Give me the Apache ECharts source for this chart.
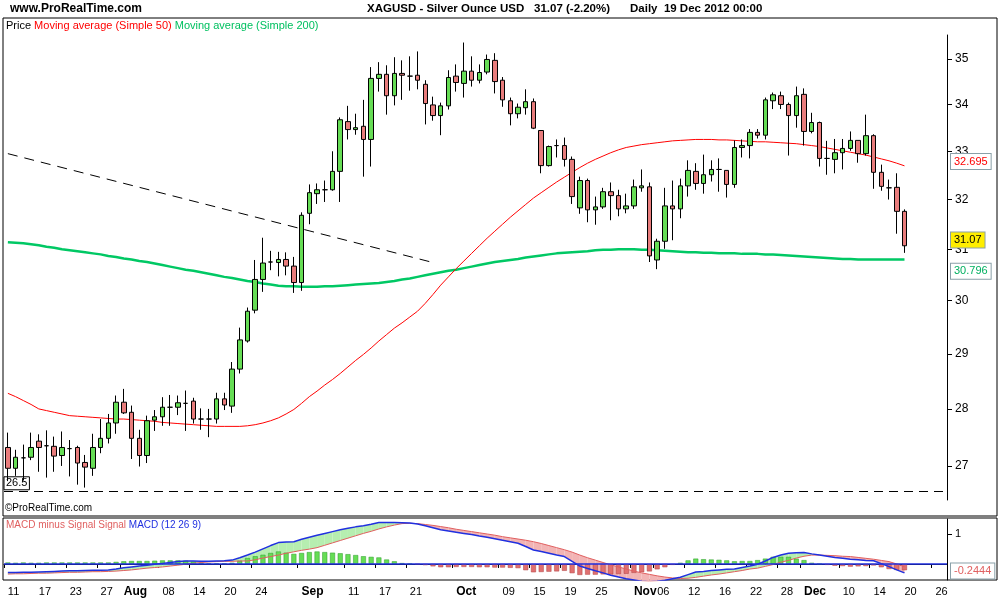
<!DOCTYPE html>
<html><head><meta charset="utf-8">
<script src="https://cdn.jsdelivr.net/npm/echarts@6/dist/echarts.min.js"></script>
<style>html,body{margin:0;padding:0;background:#fff}#c{width:1000px;height:600px}</style>
</head><body><div id="c"></div>
<script>
// ---------- DATA ----------
const openP = [27.32,26.96,27.14,27.15,27.43,27.35,27.34,27.18,27.30,27.32,27.06,26.96,27.32,27.48,27.75,28.12,27.94,27.48,27.18,27.80,27.86,28.03,28.03,28.10,28.14,27.82,27.82,27.82,28.18,28.05,28.72,29.24,29.82,30.41,30.75,30.74,30.80,30.67,30.35,31.72,32.12,32.20,32.20,32.58,33.63,33.46,33.53,33.25,34.57,34.66,34.19,34.68,34.62,34.64,34.44,33.99,33.76,33.97,34.62,34.46,34.73,34.53,34.71,34.97,34.53,34.08,33.80,33.93,34.06,33.44,32.70,33.12,33.12,32.83,31.83,32.39,31.79,31.85,32.16,32.08,31.81,31.87,32.24,32.26,30.79,31.16,31.87,31.81,32.28,32.58,32.33,32.51,32.62,32.60,32.31,33.08,33.12,33.40,33.34,34.08,34.19,34.00,33.76,34.22,33.42,33.61,32.85,32.83,32.97,33.06,33.23,32.95,33.33,32.56,32.24,32.25,31.76];
const highP = [27.58,27.28,27.37,27.58,27.55,27.62,27.51,27.60,27.45,27.35,27.19,27.56,27.82,27.91,28.24,28.36,28.06,27.63,27.88,27.98,28.21,28.25,28.24,28.33,28.20,28.01,28.00,28.29,28.29,28.85,29.49,29.87,30.79,31.23,30.97,30.95,30.94,30.85,31.74,32.31,32.33,32.39,33.00,33.72,33.97,33.80,34.10,34.82,34.93,34.86,35.04,34.97,35.06,35.17,34.53,34.17,34.04,34.75,34.88,35.37,35.06,34.88,35.10,35.13,34.60,34.15,34.02,34.33,34.13,33.44,33.12,33.25,33.29,32.89,32.47,32.43,32.06,32.24,32.35,32.20,32.12,32.41,32.62,32.35,31.21,32.24,32.39,32.43,32.81,32.75,32.93,32.81,32.85,32.60,33.23,33.25,33.47,33.47,34.15,34.26,34.28,34.04,34.39,34.35,33.82,33.63,33.22,33.26,33.26,33.42,33.23,33.78,33.36,32.72,32.41,32.54,31.80];
const lowP = [26.74,26.83,26.75,27.10,26.90,26.80,26.90,27.00,26.82,26.68,26.63,26.83,27.22,27.39,27.56,27.91,27.12,26.99,27.05,27.61,27.70,27.70,27.89,27.61,27.74,27.63,27.50,27.74,27.98,27.93,28.64,29.21,29.76,30.17,30.59,30.47,30.49,30.15,30.19,31.50,31.91,31.95,32.18,31.95,33.25,33.35,32.47,32.68,34.28,33.78,33.98,34.10,34.30,34.33,33.57,33.65,33.34,33.89,34.28,34.15,34.39,34.46,34.66,34.24,33.95,33.55,33.70,33.78,33.47,32.54,32.68,32.87,32.68,31.91,31.71,31.54,31.49,31.81,31.58,31.66,31.72,31.81,32.16,30.75,30.61,31.01,31.18,31.62,32.06,32.20,32.12,32.37,32.16,32.04,32.24,32.87,32.85,33.27,33.25,33.90,33.90,32.91,33.50,33.12,33.38,32.68,32.51,32.54,32.62,33.01,32.76,32.91,32.22,32.18,32.00,31.31,30.93];
const closeP = [26.96,27.15,27.14,27.32,27.32,27.35,27.17,27.32,27.30,27.05,26.98,27.32,27.48,27.75,28.12,27.93,27.48,27.18,27.79,27.86,28.03,28.03,28.11,28.10,27.82,27.82,27.82,28.18,28.07,28.72,29.26,29.80,30.41,30.73,30.75,30.80,30.67,30.35,31.68,32.14,32.20,32.20,32.58,33.67,33.46,33.50,33.25,34.57,34.66,34.19,34.68,34.64,34.62,34.53,34.02,33.76,33.97,34.59,34.48,34.73,34.53,34.70,34.99,34.50,34.10,33.80,33.94,34.06,33.49,32.70,33.10,33.12,32.83,32.06,32.39,31.79,31.85,32.16,32.08,31.81,31.87,32.26,32.28,30.87,31.16,31.87,31.81,32.28,32.60,32.33,32.51,32.62,32.62,32.31,33.08,33.12,33.40,33.34,34.10,34.21,34.00,33.76,34.19,33.42,33.61,32.85,32.85,32.97,33.06,33.23,32.95,33.33,32.56,32.27,32.24,31.76,31.07];
const ma50 = [28.28,28.22,28.15,28.08,28.00,27.97,27.94,27.91,27.88,27.87,27.86,27.85,27.84,27.83,27.82,27.82,27.81,27.80,27.79,27.78,27.76,27.75,27.74,27.73,27.72,27.71,27.70,27.69,27.69,27.69,27.69,27.70,27.72,27.75,27.79,27.84,27.91,27.99,28.10,28.22,28.32,28.43,28.53,28.64,28.76,28.88,28.99,29.11,29.24,29.36,29.48,29.58,29.69,29.80,29.95,30.12,30.30,30.46,30.62,30.77,30.92,31.07,31.22,31.36,31.50,31.64,31.77,31.90,32.03,32.14,32.25,32.36,32.46,32.56,32.66,32.75,32.83,32.90,32.97,33.03,33.08,33.11,33.14,33.16,33.18,33.20,33.22,33.23,33.24,33.25,33.25,33.25,33.24,33.24,33.23,33.22,33.21,33.20,33.20,33.19,33.18,33.17,33.16,33.14,33.12,33.10,33.07,33.04,33.01,32.98,32.95,32.92,32.88,32.84,32.80,32.75,32.695];
const ma200 = [31.14,31.13,31.12,31.10,31.08,31.05,31.03,31.00,30.98,30.96,30.94,30.92,30.90,30.87,30.85,30.82,30.80,30.77,30.75,30.72,30.69,30.66,30.63,30.60,30.58,30.55,30.52,30.49,30.46,30.44,30.41,30.38,30.36,30.33,30.31,30.29,30.28,30.28,30.27,30.27,30.27,30.28,30.28,30.29,30.30,30.31,30.32,30.33,30.34,30.36,30.38,30.41,30.43,30.46,30.49,30.52,30.55,30.58,30.60,30.63,30.66,30.69,30.72,30.75,30.77,30.79,30.81,30.84,30.86,30.88,30.90,30.92,30.93,30.94,30.95,30.96,30.98,30.99,30.99,31.00,31.00,31.00,30.99,30.99,30.98,30.97,30.96,30.95,30.94,30.94,30.93,30.93,30.92,30.92,30.92,30.91,30.91,30.91,30.90,30.90,30.89,30.88,30.87,30.86,30.85,30.84,30.83,30.82,30.81,30.81,30.80,30.80,30.80,30.80,30.80,30.80,30.80];
const macd = [-0.29,-0.29,-0.28,-0.28,-0.27,-0.26,-0.25,-0.24,-0.23,-0.23,-0.22,-0.21,-0.21,-0.20,-0.17,-0.13,-0.10,-0.07,-0.04,-0.01,0.02,0.05,0.08,0.10,0.10,0.09,0.09,0.10,0.11,0.13,0.21,0.30,0.40,0.51,0.62,0.72,0.74,0.75,0.83,0.90,0.97,1.03,1.09,1.15,1.20,1.25,1.29,1.34,1.40,1.40,1.40,1.39,1.38,1.35,1.29,1.22,1.15,1.11,1.07,1.03,0.99,0.94,0.90,0.85,0.80,0.75,0.70,0.59,0.47,0.42,0.36,0.30,0.25,0.09,-0.07,-0.15,-0.23,-0.30,-0.38,-0.44,-0.50,-0.54,-0.58,-0.60,-0.58,-0.55,-0.50,-0.45,-0.36,-0.27,-0.25,-0.22,-0.20,-0.18,-0.17,-0.12,-0.07,-0.01,0.10,0.22,0.30,0.36,0.38,0.39,0.34,0.30,0.26,0.22,0.19,0.16,0.14,0.12,0.11,0.01,-0.09,-0.20,-0.30];
const signal = [-0.34,-0.33,-0.33,-0.32,-0.31,-0.31,-0.30,-0.29,-0.28,-0.28,-0.27,-0.26,-0.26,-0.25,-0.24,-0.22,-0.20,-0.17,-0.14,-0.12,-0.10,-0.07,-0.04,-0.01,0.02,0.05,0.07,0.08,0.09,0.09,0.10,0.10,0.14,0.20,0.25,0.30,0.36,0.41,0.46,0.50,0.55,0.63,0.71,0.79,0.87,0.95,1.03,1.10,1.18,1.25,1.31,1.36,1.37,1.36,1.33,1.30,1.26,1.22,1.17,1.13,1.09,1.05,1.01,0.97,0.92,0.88,0.84,0.80,0.75,0.69,0.62,0.55,0.48,0.40,0.30,0.21,0.13,0.05,-0.03,-0.10,-0.17,-0.24,-0.30,-0.35,-0.40,-0.44,-0.47,-0.49,-0.48,-0.45,-0.41,-0.37,-0.34,-0.30,-0.26,-0.22,-0.17,-0.14,-0.08,-0.02,0.06,0.12,0.20,0.26,0.30,0.30,0.29,0.28,0.26,0.25,0.22,0.19,0.16,0.12,0.08,0.00,-0.09];
const priceTicks = [27,28,29,30,31,32,33,34,35];
const labelDates = ['2012-07-11','2012-07-17','2012-07-23','2012-07-27','2012-08-01','2012-08-08','2012-08-14','2012-08-20','2012-08-24','2012-09-03','2012-09-11','2012-09-17','2012-09-21','2012-10-01','2012-10-09','2012-10-15','2012-10-19','2012-10-25','2012-11-01','2012-11-06','2012-11-12','2012-11-16','2012-11-22','2012-11-28','2012-12-03','2012-12-10','2012-12-14','2012-12-20','2012-12-26'];
const monthNames = {'2012-08-01':'Aug','2012-09-03':'Sep','2012-10-01':'Oct','2012-11-01':'Nov','2012-12-03':'Dec'};

// ---------- BUILD ----------
const dates = [];
{ let d = new Date(Date.UTC(2012,6,11)); const end = Date.UTC(2012,11,27);
  while (d.getTime() <= end) { const w = d.getUTCDay(); if (w>0 && w<6) dates.push(d.toISOString().slice(0,10)); d = new Date(d.getTime()+86400000); } }
const L = Math.log;
const candles = openP.map((o,i)=>[L(o),L(closeP[i]),L(lowP[i]),L(highP[i])]);
const hist = macd.map((m,i)=>+(m-signal[i]).toFixed(3));
const labelSet = new Set(labelDates);
const hidden = {color:'rgba(0,0,0,0)',width:0};
const boxLbl = (txt,color,bg)=>({show:true,formatter:txt,position:'end',distance:4,color:color,fontSize:11,borderColor:'#8aa0a8',borderWidth:1,backgroundColor:bg||'#fff',padding:[2,3]});

const chart = echarts.init(document.getElementById('c'));
const font = 'Liberation Sans, Arial, sans-serif';
chart.setOption({
  animation:false,
  textStyle:{fontFamily:font},
  grid:[{left:4,right:53,top:35,bottom:100},{left:4,right:53,top:519,bottom:20}],
  xAxis:[
    {type:'category',gridIndex:0,data:dates,boundaryGap:true,axisLine:{show:false},axisTick:{show:false},axisLabel:{show:false}},
    {type:'category',gridIndex:1,data:dates,boundaryGap:true,axisLine:{lineStyle:{color:'#000'}},
     axisTick:{show:true,interval:(i,v)=>labelSet.has(v),lineStyle:{color:'#000'},length:4},
     axisLabel:{interval:(i,v)=>labelSet.has(v),color:'#000',fontSize:11,margin:6,align:'left',
       formatter:v=>monthNames[v]?'{b|'+monthNames[v]+'}':v.slice(8),rich:{b:{fontWeight:'bold',fontSize:12}}}}
  ],
  yAxis:[
    {type:'value',gridIndex:0,position:'right',min:L(26.42),max:L(35.54),
     axisLine:{show:true,lineStyle:{color:'#000'}},splitLine:{show:false},
     axisTick:{show:true,customValues:priceTicks.map(L),lineStyle:{color:'#000'}},
     axisLabel:{customValues:priceTicks.map(L),formatter:v=>String(Math.round(Math.exp(v))),color:'#000',fontSize:12,margin:8}},
    {type:'value',gridIndex:1,position:'right',min:-0.54,max:1.515,
     axisLine:{show:true,lineStyle:{color:'#000'}},splitLine:{show:false},
     axisTick:{show:true,customValues:[1],lineStyle:{color:'#000'}},
     axisLabel:{customValues:[1],formatter:v=>String(v),color:'#000',fontSize:11,margin:8}}
  ],
  series:[
    {type:'line',xAxisIndex:0,yAxisIndex:0,data:ma200.map(L),symbol:'none',lineStyle:{color:'#00c864',width:2.5},z:2,
     markLine:{silent:true,symbol:'none',data:[{yAxis:L(30.70),lineStyle:hidden,label:boxLbl('30.796','#00b060')}]}},
    {type:'line',xAxisIndex:0,yAxisIndex:0,data:ma50.map(L),symbol:'none',lineStyle:{color:'#ff0000',width:1},z:3,
     markLine:{silent:true,symbol:'none',data:[{yAxis:L(32.695),lineStyle:hidden,label:boxLbl('32.695','#ff0000')}]}},
    {type:'candlestick',xAxisIndex:0,yAxisIndex:0,data:candles,barWidth:5,z:4,
     itemStyle:{color:'#66dd55',color0:'#e87c7c',borderColor:'#000',borderColor0:'#000',borderWidth:1},
     markLine:{silent:true,symbol:'none',data:[
       {yAxis:L(26.5),lineStyle:{color:'#000',type:[9,6],width:1},label:{formatter:'26.5',position:'insideStartTop',color:'#000',fontSize:11,borderColor:'#000',borderWidth:1,padding:[1,2],distance:[0,1]}},
       [{coord:[dates[0],L(32.95)],lineStyle:{color:'#000',type:[10,7],width:1},label:{show:false}},{coord:[dates[55],L(30.74)]}],
       {yAxis:L(31.07),lineStyle:hidden,label:boxLbl('31.07','#000','#ffee00')}
     ]}},
    {type:'custom',xAxisIndex:1,yAxisIndex:1,data:macd.map((m,i)=>i),z:1,silent:true,
     renderItem:(params,api)=>{const i=api.value(0); if(i>=macd.length-1) return null;
       const a=api.coord([i,macd[i]]),b=api.coord([i+1,macd[i+1]]),c=api.coord([i+1,signal[i+1]]),d=api.coord([i,signal[i]]);
       const up=(macd[i]+macd[i+1])>(signal[i]+signal[i+1]);
       return {type:'polygon',shape:{points:[a,b,c,d]},style:{fill:up?'#b6eeb0':'#f2b4b4',stroke:null}};}},
    {type:'bar',xAxisIndex:1,yAxisIndex:1,data:hist.map(v=>({value:v,itemStyle:{color:v>=0?'#66dd55':'#e07070',borderColor:v>=0?'#2a9a2a':'#b04040',borderWidth:0.5}})),barWidth:5,z:2},
    {type:'line',xAxisIndex:1,yAxisIndex:1,data:signal,symbol:'none',lineStyle:{color:'#e06060',width:1},z:3,
     markLine:{silent:true,symbol:'none',data:[{yAxis:-0.2444,lineStyle:hidden,label:boxLbl('-0.2444','#e06060')}]}},
    {type:'line',xAxisIndex:1,yAxisIndex:1,data:macd,symbol:'none',lineStyle:{color:'#2030e0',width:1.5},z:4,
     markLine:{silent:true,symbol:'none',data:[{yAxis:0,lineStyle:{color:'#2030e0',width:1.5,type:'solid'},label:{show:false}}]}}
  ],
  graphic:[
    {type:'rect',shape:{x:3,y:18,width:994,height:498},style:{fill:null,stroke:'#000',lineWidth:1},z:-1},
    {type:'rect',shape:{x:3,y:518,width:994,height:62},style:{fill:null,stroke:'#000',lineWidth:1},z:-1},
    {type:'text',left:10,top:3,style:{text:'www.ProRealTime.com',font:'bold 12px '+font,fill:'#000'}},
    {type:'text',left:367,top:3,style:{text:'XAGUSD - Silver Ounce USD',font:'bold 11.5px '+font,fill:'#000'}},
    {type:'text',left:534,top:3,style:{text:'31.07 (-2.20%)',font:'bold 11.5px '+font,fill:'#000'}},
    {type:'text',left:630,top:3,style:{text:'Daily  19 Dec 2012 00:00',font:'bold 11.5px '+font,fill:'#000'}},
    {type:'text',left:6,top:20,style:{text:'{k|Price }{r|Moving average (Simple 50) }{g|Moving average (Simple 200)}',font:'11px '+font,rich:{k:{fill:'#000',fontSize:11},r:{fill:'#ff0000',fontSize:11},g:{fill:'#00c060',fontSize:11}}}},
    {type:'text',left:5,top:503,style:{text:'©ProRealTime.com',font:'10px '+font,fill:'#000'}},
    {type:'text',left:6,top:520,style:{text:'{r|MACD minus Signal Signal }{b|MACD (12 26 9)}',font:'10px '+font,rich:{r:{fill:'#e06060',fontSize:10},b:{fill:'#2030e0',fontSize:10}}}}
  ]
});
</script></body></html>
